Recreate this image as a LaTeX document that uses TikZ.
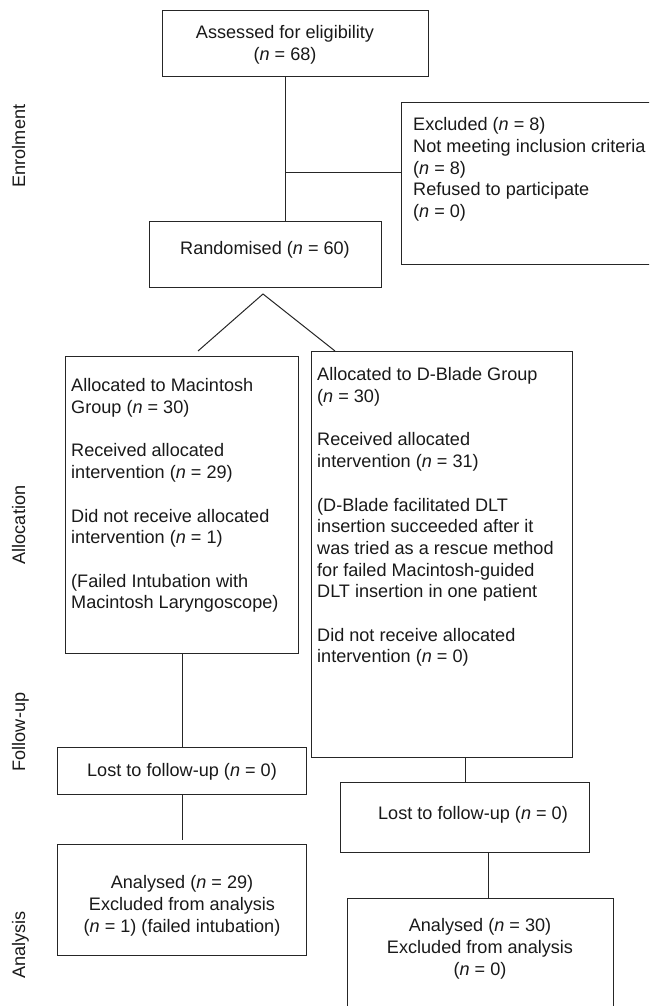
\documentclass[tikz,border=0pt]{standalone}
\usepackage{fontspec}
\setmainfont{Liberation Sans}
\begin{document}
\begin{tikzpicture}[x=1pt,y=-1pt,
  line/.style={draw=black!85, line width=1pt},
  box/.style={line, inner sep=0pt, anchor=north west},
  ftxt/.style={font=\fontsize{18.1}{21.7}\selectfont, text=black!90, inner sep=0pt},
  ltxt/.style={ftxt, align=left, anchor=north west},
  ctxt/.style={ftxt, align=center, anchor=center},
  stage/.style={ftxt, rotate=90, anchor=base}]
\useasboundingbox (0,0) rectangle (649,1006);
\clip (0,0) rectangle (649,1006);
% boxes
\node[box, minimum width=266pt, minimum height=66pt] (top) at (162,10) {};
\node[ctxt] (toptxt) at (285,44.6) {Assessed for eligibility\\(\textit{n} = 68)};
\node[box, minimum width=260pt, minimum height=162pt] (excl) at (401,102) {};
\node[ltxt] (excltxt) at (413,117.5) {Excluded (\textit{n} = 8)\\Not meeting inclusion criteria\\(\textit{n} = 8)\\Refused to participate\\(\textit{n} = 0)};
\node[box, minimum width=232pt, minimum height=66pt] (rand) at (149,221) {};
\node[ctxt] (randtxt) at (265,249.8) {Randomised (\textit{n} = 60)};
\node[box, minimum width=233pt, minimum height=297pt] (lalloc) at (65,356) {};
\node[ltxt] (lalloctxt) at (71,378.5) {Allocated to Macintosh\\Group (\textit{n} = 30)\\[21.7pt]Received allocated\\intervention (\textit{n} = 29)\\[21.7pt]Did not receive allocated\\intervention (\textit{n} = 1)\\[21.7pt](Failed Intubation with\\Macintosh Laryngoscope)};
\node[box, minimum width=261pt, minimum height=406pt] (ralloc) at (311,351) {};
\node[ltxt] (ralloctxt) at (317,367.5) {Allocated to D-Blade Group\\(\textit{n} = 30)\\[21.7pt]Received allocated\\intervention (\textit{n} = 31)\\[21.7pt](D-Blade facilitated DLT\\insertion succeeded after it\\was tried as a rescue method\\for failed Macintosh-guided\\DLT insertion in one patient\\[21.7pt]Did not receive allocated\\intervention (\textit{n} = 0)};
\node[box, minimum width=249pt, minimum height=47pt] (llost) at (57,747) {};
\node[ctxt] (llosttxt) at (182,771.5) {Lost to follow-up (\textit{n} = 0)};
\node[box, minimum width=249pt, minimum height=70pt] (rlost) at (340,782) {};
\node[ctxt] (rlosttxt) at (473,814.7) {Lost to follow-up (\textit{n} = 0)};
\node[box, minimum width=249pt, minimum height=111pt] (lana) at (57,844) {};
\node[ctxt] (lanatxt) at (182,905.7) {Analysed (\textit{n} = 29)\\Excluded from analysis\\(\textit{n} = 1) (failed intubation)};
\node[box, minimum width=266pt, minimum height=120pt] (rana) at (347,898) {};
\node[ctxt] (ranatxt) at (480,948.7) {Analysed (\textit{n} = 30)\\Excluded from analysis\\(\textit{n} = 0)};
% stage labels
\node[stage] (s1) at (25,146) {Enrolment};
\node[stage] (s2) at (25,525) {Allocation};
\node[stage] (s3) at (25,732) {Follow-up};
\node[stage] (s4) at (25,945) {Analysis};
% connectors
\coordinate (tb) at ([xshift=-10pt]top.south);
\draw[line] (tb) -- (tb |- rand.north);
\coordinate (j1) at (285,172);
\draw[line] (j1) -- (j1 -| excl.west);
\coordinate (apex) at (263,294);
\coordinate (dl) at (198,351);
\coordinate (dr) at (335,351);
\draw[line] (dl) -- (apex) -- (dr);
\draw[line] (lalloc.south) -- (llost.north);
\draw[line] (llost.south) -- ([yshift=4pt]lana.north);
\draw[line] (rlost.north |- ralloc.south) -- (rlost.north);
\coordinate (rb) at ([xshift=8pt]rana.north);
\draw[line] (rb |- rlost.south) -- (rb);
\end{tikzpicture}
\end{document}
